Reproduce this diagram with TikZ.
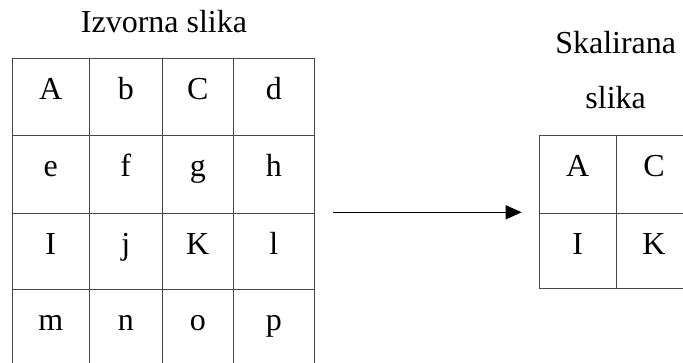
\documentclass[tikz,border=0pt]{standalone}
\usepackage{fontspec}
\setmainfont{Liberation Serif}
\usetikzlibrary{arrows.meta}
\begin{document}
\begin{tikzpicture}[x=0.75pt,y=-0.75pt,
  gridline/.style={draw=black!72,line width=0.8pt},
  cell/.style={anchor=base,inner sep=0pt,font=\fontsize{24}{28}\selectfont},
  title/.style={anchor=base,inner sep=0pt,font=\fontsize{24}{28}\selectfont},
  arrowline/.style={draw=black,line width=1pt,-{Triangle[length=12pt,width=10.5pt]}}]
\useasboundingbox (0,0) rectangle (683,363);
% titles
\node[title] (t1) at (164,32.3) {Izvorna slika};
\node[title] (t2) at (615.7,54) {Skalirana};
\node[title] (t3) at (615.7,109) {slika};
% left grid
\foreach \x in {12.3,89.3,162.3,233.3,314.3} {\draw[gridline] (\x,58.3) -- (\x,363);}
\foreach \y in {58.3,135.7,213.7,289.3} {\draw[gridline] (12.3,\y) -- (314.3,\y);}
% left letters
\node[cell] (l11) at (50.8,99.3) {A};
\node[cell] (l12) at (125.8,99.3) {b};
\node[cell] (l13) at (197.8,99.3) {C};
\node[cell] (l14) at (273.8,99.3) {d};
\node[cell] (l21) at (50.8,176.7) {e};
\node[cell] (l22) at (125.8,176.7) {f};
\node[cell] (l23) at (197.8,176.7) {g};
\node[cell] (l24) at (273.8,176.7) {h};
\node[cell] (l31) at (50.8,254.5) {I};
\node[cell] (l32) at (125.8,254.5) {j};
\node[cell] (l33) at (197.8,254.5) {K};
\node[cell] (l34) at (273.8,254.5) {l};
\node[cell] (l41) at (50.8,330.3) {m};
\node[cell] (l42) at (125.8,330.3) {n};
\node[cell] (l43) at (197.8,330.3) {o};
\node[cell] (l44) at (273.8,330.3) {p};
% right grid
\foreach \x in {539.3,616.3} {\draw[gridline] (\x,135.7) -- (\x,288.7);}
\foreach \y in {135.7,213.7,288.7} {\draw[gridline] (539.3,\y) -- (683,\y);}
\node[cell] (r11) at (577.8,176.7) {A};
\node[cell] (r12) at (654,176.7) {C};
\node[cell] (r21) at (577.8,254.3) {I};
\node[cell] (r22) at (654,254.3) {K};
% arrow
\coordinate (as) at (333,212.3);
\coordinate (ae) at (521.7,212.3);
\draw[arrowline] (as) -- (ae);
\end{tikzpicture}
\end{document}
